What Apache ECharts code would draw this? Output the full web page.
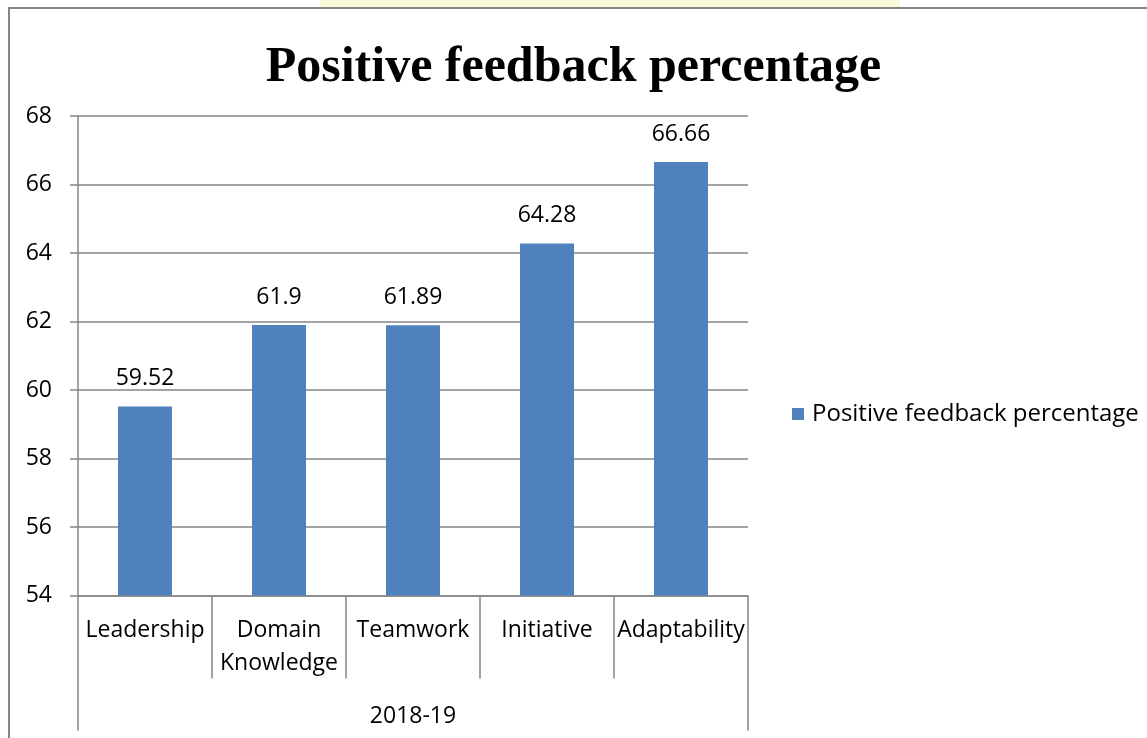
<!DOCTYPE html>
<html>
<head>
<meta charset="utf-8">
<title>Positive feedback percentage</title>
<script src="https://cdn.jsdelivr.net/npm/echarts@6/dist/echarts.min.js"></script>
<style>
  html, body { margin: 0; padding: 0; background: #fff; }
  #chart { width: 1147px; height: 738px; }
</style>
</head>
<body>
<div id="chart"></div>
<script>
// data
var categories = ['Leadership', 'Domain Knowledge', 'Teamwork', 'Initiative', 'Adaptability'];
var groups = ['2018-19'];
var values = [59.52, 61.9, 61.89, 64.28, 66.66];
var seriesName = 'Positive feedback percentage';
var yTicks = { min: 54, max: 68, step: 2 };

var gray = '#868686';
var labelFont = '"Open Sans", "Noto Sans", sans-serif';

var myChart = echarts.init(document.getElementById('chart'));

var option = {
    backgroundColor: '#fff',
    animation: false,
    title: {
        text: 'Positive feedback percentage',
        left: 'center',
        top: 38,
        textStyle: {
            fontFamily: '"Liberation Serif", "DejaVu Serif", serif',
            fontWeight: 'bold',
            fontSize: 50,
            color: '#000'
        }
    },
    legend: {
        data: [seriesName],
        left: 792,
        top: 402,
        padding: 0,
        itemWidth: 12,
        itemHeight: 12,
        itemGap: 0,
        icon: 'rect',
        textStyle: {
            fontFamily: labelFont,
            fontSize: 24,
            color: '#000',
            padding: [0, 0, 0, 3]
        }
    },
    grid: {
        left: 78,
        top: 116,
        width: 670,
        height: 479.5,
        containLabel: false
    },
    xAxis: [{
        type: 'category',
        data: categories,
        position: 'bottom',
        axisLine: {
            show: true,
            onZero: false,
            lineStyle: { color: gray, width: 1.5 }
        },
        axisTick: {
            show: true,
            interval: 0,
            length: 83,
            alignWithLabel: false,
            lineStyle: { color: gray, width: 1.5 }
        },
        axisLabel: {
            interval: 0,
            margin: 18,
            fontFamily: labelFont,
            fontSize: 23,
            lineHeight: 33,
            color: '#000',
            formatter: function (v) {
                return v.replace(' ', '\n');
            }
        },
        splitLine: { show: false }
    }, {
        type: 'category',
        data: groups,
        position: 'bottom',
        axisLine: { show: false, onZero: false },
        axisTick: {
            show: true,
            length: 135,
            lineStyle: { color: gray, width: 1.5 }
        },
        axisLabel: {
            margin: 104,
            fontFamily: labelFont,
            fontSize: 23,
            lineHeight: 33,
            color: '#000'
        },
        splitLine: { show: false }
    }],
    yAxis: {
        type: 'value',
        min: yTicks.min,
        max: yTicks.max,
        interval: yTicks.step,
        axisLine: {
            show: true,
            lineStyle: { color: gray, width: 1.5 }
        },
        axisTick: {
            show: true,
            length: 8,
            lineStyle: { color: gray, width: 1.5 }
        },
        axisLabel: {
            margin: 26,
            fontFamily: labelFont,
            fontSize: 23,
            color: '#000'
        },
        splitLine: {
            lineStyle: { color: gray, width: 1.5 }
        }
    },
    series: [{
        name: seriesName,
        type: 'bar',
        xAxisIndex: 0,
        data: values,
        barWidth: 54,
        itemStyle: { color: '#4f81bd' },
        label: {
            show: true,
            position: 'top',
            distance: 16,
            fontFamily: labelFont,
            fontSize: 23,
            color: '#000'
        }
    }],
    graphic: [{
        type: 'rect',
        silent: true,
        z: -1,
        shape: { x: 320, y: 0, width: 580, height: 7 },
        style: { fill: '#fcf8dc' }
    }, {
        type: 'rect',
        silent: true,
        shape: { x: 9, y: 8, width: 1300, height: 900 },
        style: { fill: 'none', stroke: gray, lineWidth: 2 }
    }]
};

myChart.setOption(option);
window.addEventListener('resize', function () {
    myChart.resize();
});
</script>
</body>
</html>
